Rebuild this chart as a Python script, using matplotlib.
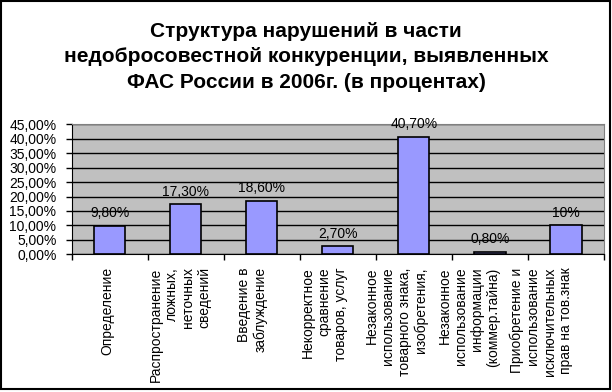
import numpy as np
import matplotlib
matplotlib.use("Agg")
import matplotlib.pyplot as plt
from matplotlib.patches import Rectangle

plt.rcParams['font.family'] = ['Liberation Sans', 'DejaVu Sans']

# data
categories = [
    "Определение",
    "Распространение\nложных,\nнеточных\nсведений",
    "Введение в\nзаблуждение",
    "Некорректное\nсравнение\nтоваров, услуг",
    "Незаконное\nиспользование\nтоварного знака,\nизобретения,",
    "Незаконное\nиспользование\nинформации\n(коммер.тайна)",
    "Приобретение и\nиспользование\nисключительных\nправ на тов.знак",
]
values = [9.8, 17.3, 18.6, 2.7, 40.7, 0.8, 10.0]
value_labels = ["9,80%", "17,30%", "18,60%", "2,70%", "40,70%", "0,80%", "10%"]
yticks = [0, 5, 10, 15, 20, 25, 30, 35, 40, 45]
ytick_labels = ["0,00%", "5,00%", "10,00%", "15,00%", "20,00%", "25,00%",
                "30,00%", "35,00%", "40,00%", "45,00%"]
title = ("Структура нарушений в части\n"
         "недобросовестной конкуренции, выявленных\n"
         "ФАС России в 2006г. (в процентах)")

fig = plt.figure(figsize=(6.12, 3.92), dpi=100)
fig.patch.set_facecolor('white')
ax = fig.add_axes([0.1172, 0.3513, 0.8697, 0.3316])
ax.set_facecolor('#C0C0C0')

x = np.arange(len(values))
ax.bar(x, values, width=0.41, color='#9999FF', edgecolor='black',
       linewidth=1.2, zorder=3)
for xi, v, lab in zip(x, values, value_labels):
    ax.annotate(lab, (xi, v), xytext=(0, 4), textcoords='offset points',
                ha='center', va='bottom', fontsize=10, zorder=4)

ax.set_xlim(-0.5, len(values) - 0.5)
ax.set_ylim(0, 45)
ax.set_yticks(yticks)
ax.set_yticklabels(ytick_labels, fontsize=10)
ax.yaxis.grid(True, color='black', linewidth=1)
ax.set_axisbelow(True)

# ticks between categories
ax.set_xticks(np.arange(len(values) + 1) - 0.5)
ax.set_xticklabels([])
ax.tick_params(axis='x', direction='out', length=4, width=1)
ax.tick_params(axis='y', direction='out', length=4, width=1, pad=7)

# category labels (Excel spaces them a little tighter than the bars)
for i, cat in enumerate(categories):
    ax.text(i * 0.951 - 0.03, -0.1, cat, transform=ax.get_xaxis_transform(),
            rotation=90, ha='center', va='top', multialignment='right',
            fontsize=10, linespacing=1.2)

for side in ['left', 'bottom']:
    ax.spines[side].set_color('black')
ax.spines['top'].set_color('#808080')
ax.spines['right'].set_color('#808080')

fig.text(0.5, 1 - 57 / 392, title, ha='center', va='center',
         fontsize=15, fontweight='bold', linespacing=1.42)

fig.patches.append(Rectangle((0.002, 0.008), 0.994, 0.99, transform=fig.transFigure,
                             fill=False, edgecolor='black', linewidth=1.5))

fig.savefig('out.png', dpi=100)
